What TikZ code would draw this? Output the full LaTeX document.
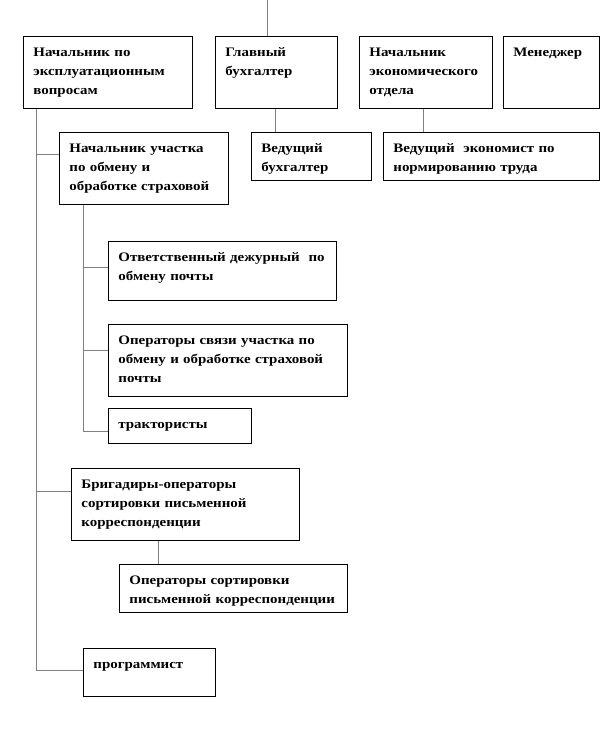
\documentclass[tikz,border=0pt]{standalone}
\usepackage{fontspec}
\setmainfont[FakeStretch=1.15]{Liberation Serif}
\usepackage{tikz}
\usetikzlibrary{positioning}

\begin{document}
\begin{tikzpicture}[x=1pt,y=-1pt,font=\bfseries\fontsize{13}{19}\selectfont,
 b/.style={draw,line width=0.8pt,anchor=north west,align=left,inner xsep=10pt,inner ysep=9pt,text height=11pt},
 ln/.style={draw=gray,line width=1pt}]
 \useasboundingbox (0,0) rectangle (612,756);
 \coordinate (top) at (267,0);
 % top row
 \node[b,text width=149pt,text depth=43pt] (nach) at (23,36) {Начальник по\\эксплуатационным\\вопросам};
 \node[b,text width=102pt,text depth=43pt] (glav) at (215,36) {Главный\\бухгалтер};
 \node[b,text width=113pt,text depth=43pt] (ekon) at (359,36) {Начальник\\экономического\\отдела};
 \node[b,text width=76pt,text depth=43pt] (men) at (503,36) {Менеджер};
 % second row
 \node[b,text width=100pt,text depth=19pt] (vbuh) at (251,132) {Ведущий\\бухгалтер};
 \node[b,text width=196pt,text depth=19pt] (vekon) at (383,132) {Ведущий\ \ экономист по\\нормированию труда};
 \node[b,text width=149pt,text depth=43pt] (uch) at (59,132) {Начальник участка\\по обмену и\\обработке страховой};
 % under uch
 \node[b,text width=208pt,text depth=30pt] (dezh) at (108,241) {Ответственный дежурный\ \ по\\обмену почты};
 \node[b,text width=219pt,text depth=43pt] (oper) at (108,324) {Операторы связи участка по\\обмену и обработке страховой\\почты};
 \node[b,text width=123pt,text depth=6pt] (trak) at (108,408) {трактористы};
 \node[b,text width=208pt,text depth=43pt] (brig) at (71,468) {Бригадиры-операторы\\сортировки письменной\\корреспонденции};
 \node[b,text width=208pt,text depth=19pt] (sort) at (119,564) {Операторы сортировки\\письменной корреспонденции};
 \node[b,text width=112pt,text depth=19pt] (prog) at (83,648) {программист};
 % lines
 \draw[ln] (top) -- (top |- glav.north);
 \draw[ln] ([xshift=60pt]glav.south west) -- ([xshift=60pt]glav.south west |- vbuh.north);
 \draw[ln] ([xshift=64pt]ekon.south west) -- ([xshift=64pt]ekon.south west |- vekon.north);
 \draw[ln] ([xshift=13pt]nach.south west) |- ([yshift=-22pt]prog.north west);
 \draw[ln] ([xshift=13pt]nach.south west) |- ([yshift=-22pt]uch.north west);
 \draw[ln] ([xshift=13pt]nach.south west) |- ([yshift=-23pt]brig.north west);
 \draw[ln] ([xshift=24pt]uch.south west) |- ([yshift=-23pt]trak.north west);
 \draw[ln] ([xshift=24pt]uch.south west) |- ([yshift=-26pt]dezh.north west);
 \draw[ln] ([xshift=24pt]uch.south west) |- ([yshift=-26pt]oper.north west);
 \draw[ln] ([xshift=87pt]brig.south west) -- ([xshift=87pt]brig.south west |- sort.north);
\end{tikzpicture}
\end{document}
